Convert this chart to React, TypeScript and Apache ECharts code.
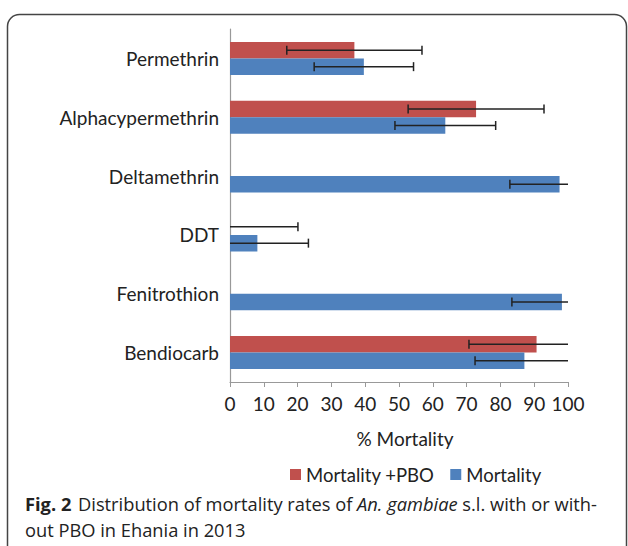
import React, { useEffect, useRef } from "react";
import * as echarts from "echarts";

const categories = ["Permethrin", "Alphacypermethrin", "Deltamethrin", "DDT", "Fenitrothion", "Bendiocarb"];
const pboValues: (number | string)[] = [36.8, 72.8, "-", 0, "-", 90.7];
const pboErrors: (number | null)[] = [20, 20.1, null, 20.1, null, 20];
const mortValues: number[] = [39.6, 63.7, 97.5, 8.1, 98.2, 87.1];
const mortErrors: number[] = [14.7, 14.9, 14.7, 15.1, 14.8, 14.6];
const xTicks = { min: 0, max: 100, interval: 10 };

const RED = "#C0504D";
const BLUE = "#4F81BD";
const BAR_FRAC = 0.28;

function errData(vals: (number | string)[], errs: (number | null)[]) {
  const out: any[] = [];
  vals.forEach((v, i) => {
    if (typeof v === "number" && errs[i] != null) out.push([v, i, errs[i]]);
  });
  return out;
}

function makeRender(sign: number) {
  return (params: any, api: any) => {
    const v = api.value(0);
    const cat = api.value(1);
    const e = api.value(2);
    const lo = Math.max(xTicks.min, v - e);
    const hi = Math.min(xTicks.max, v + e);
    const p1 = api.coord([lo, cat]);
    const p2 = api.coord([hi, cat]);
    const band = api.size([0, 1])[1];
    const y = p1[1] + (sign * band * BAR_FRAC) / 2;
    const cap = 4.5;
    const style = { stroke: "#222", lineWidth: 1.5 };
    const children: any[] = [
      { type: "line", shape: { x1: p1[0], y1: y, x2: p2[0], y2: y }, style },
    ];
    if (v - e > xTicks.min) children.push({ type: "line", shape: { x1: p1[0], y1: y - cap, x2: p1[0], y2: y + cap }, style });
    if (v + e < xTicks.max) children.push({ type: "line", shape: { x1: p2[0], y1: y - cap, x2: p2[0], y2: y + cap }, style });
    return { type: "group", children };
  };
}

export default function App() {
  const ref = useRef<HTMLDivElement>(null);
  useEffect(() => {
    if (!ref.current) return;
    const chart = echarts.init(ref.current, null, { renderer: "svg" });
    const font = "Lato";
    chart.setOption({
      animation: false,
      backgroundColor: "#ffffff",
      grid: { left: 230, right: 60, top: 29, bottom: 164, containLabel: false },
      legend: {
        left: 285,
        top: 460,
        itemWidth: 11,
        itemHeight: 11,
        itemGap: 16,
        icon: "rect",
        textStyle: { fontFamily: font, fontSize: 18.5, color: "#222" },
        data: ["Mortality +PBO", "Mortality"],
      },
      xAxis: {
        type: "value",
        min: xTicks.min,
        max: xTicks.max,
        interval: xTicks.interval,
        name: "% Mortality",
        nameLocation: "middle",
        nameGap: 47,
        nameTextStyle: { fontFamily: font, fontSize: 19, color: "#222", padding: [0, 0, 0, 12] },
        axisLine: { show: true, lineStyle: { color: "#999", width: 1.2 } },
        axisTick: { show: true, length: 5, lineStyle: { color: "#999" } },
        axisLabel: { fontFamily: font, fontSize: 19, color: "#222", margin: 12 },
        splitLine: { show: false },
      },
      yAxis: {
        type: "category",
        inverse: true,
        data: categories,
        axisLine: { show: true, lineStyle: { color: "#999", width: 1.2 } },
        axisTick: { show: false },
        axisLabel: { fontFamily: font, fontSize: 19, color: "#222", margin: 11 },
      },
      series: [
        {
          name: "Mortality +PBO",
          type: "bar",
          data: pboValues,
          barWidth: "28%",
          barGap: "0%",
          itemStyle: { color: RED },
        },
        {
          name: "Mortality",
          type: "bar",
          data: mortValues,
          barWidth: "28%",
          barGap: "0%",
          itemStyle: { color: BLUE },
        },
        {
          type: "custom",
          name: "pboErr",
          renderItem: makeRender(-1),
          encode: { x: 0, y: 1 },
          data: errData(pboValues, pboErrors),
          z: 10,
          clip: false,
        },
        {
          type: "custom",
          name: "mortErr",
          renderItem: makeRender(1),
          encode: { x: 0, y: 1 },
          data: errData(mortValues, mortErrors),
          z: 10,
          clip: false,
        },
      ],
      graphic: [
        {
          type: "rect",
          shape: { x: 7.5, y: 14.5, width: 619, height: 560, r: 12 },
          style: { fill: "none", stroke: "#444", lineWidth: 1.5 },
          silent: true,
        },
        {
          type: "text",
          left: 25,
          top: 494,
          style: {
            text: "{b|Fig. 2}  {n|Distribution of mortality rates of }{i|An. gambiae}{n| s.l. with or with-}\n{n|out PBO in Ehania in 2013}",
            rich: {
              b: { fontFamily: "Open Sans", fontWeight: "bold", fontSize: 18.3, lineHeight: 26, fill: "#222" },
              n: { fontFamily: "Open Sans", fontSize: 18.3, lineHeight: 26, fill: "#222" },
              i: { fontFamily: "Open Sans", fontStyle: "italic", fontSize: 18.3, lineHeight: 26, fill: "#222" },
            },
          },
        },
      ],
    });
    return () => chart.dispose();
  }, []);
  return <div ref={ref} style={{ position: "absolute", left: 0, top: 0, width: 628, height: 546 }} />;
}
